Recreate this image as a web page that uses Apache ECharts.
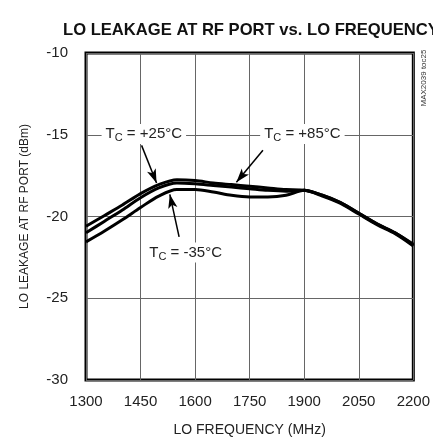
<!DOCTYPE html>
<html>
<head>
<meta charset="utf-8">
<script src="https://cdn.jsdelivr.net/npm/echarts@6/dist/echarts.min.js"></script>
<style>html,body{margin:0;padding:0;background:#fff;}#c{width:433px;height:444px;}</style>
</head>
<body>
<div id="c"></div>
<script>
const freqs = [1300,1350,1400,1450,1500,1550,1600,1650,1700,1750,1800,1850,1900,1950,2000,2050,2100,2150,2200];
const tc85 = [-20.6,-19.95,-19.3,-18.6,-18.05,-17.75,-17.8,-17.95,-18.05,-18.15,-18.25,-18.35,-18.4,-18.7,-19.15,-19.8,-20.45,-21.0,-21.75];
const tc25 = [-21.0,-20.3,-19.6,-18.85,-18.25,-17.95,-18.0,-18.1,-18.2,-18.3,-18.4,-18.45,-18.4,-18.75,-19.2,-19.85,-20.5,-21.05,-21.8];
const tcm35 = [-21.55,-20.9,-20.2,-19.45,-18.75,-18.35,-18.35,-18.5,-18.7,-18.8,-18.8,-18.7,-18.4,-18.7,-19.15,-19.8,-20.45,-21.0,-21.7];
const xTicks = [1300,1450,1600,1750,1900,2050,2200];
const yTicks = [-30,-25,-20,-15,-10];
const labelTexts = ['+25°C','+85°C','-35°C'];

const FONT = '"Liberation Sans",Arial,sans-serif';
const chart = echarts.init(document.getElementById('c'), null, {renderer:'canvas'});

function zip(xs, ys){ return xs.map((x,i)=>[x, ys[i]]); }
const rich = {
  t:{fontSize:15, fontFamily:FONT, color:'#222', lineHeight:20},
  s:{fontSize:11, fontFamily:FONT, color:'#222', padding:[8,0,0,0], lineHeight:20}
};
function tcLabel(txt){ return '{t|T}{s|C}{t| = ' + txt + '}'; }

const lineStyle = {color:'#000', width:3};
chart.setOption({
  animation:false,
  title:{text:'LO LEAKAGE AT RF PORT vs. LO FREQUENCY', left:58, top:17,
    textStyle:{fontFamily:FONT, fontWeight:'bold', fontSize:16.6, color:'#111'}},
  grid:{left:86, right:19, top:53, bottom:64, show:true, borderColor:'#000', borderWidth:3, backgroundColor:'transparent'},
  xAxis:{type:'value', min:1300, max:2200, interval:150,
    name:'LO FREQUENCY (MHz)', nameLocation:'middle', nameGap:43,
    nameTextStyle:{fontFamily:FONT, fontSize:14, color:'#222'},
    axisLine:{show:false}, axisTick:{show:false},
    axisLabel:{fontFamily:FONT, fontSize:15, color:'#222', margin:14,
      formatter: v => xTicks.indexOf(v) >= 0 ? String(v) : ''},
    splitLine:{show:true, lineStyle:{color:'#666', width:1}}},
  yAxis:{type:'value', min:-30, max:-10, interval:5,
    name:'LO LEAKAGE AT RF PORT (dBm)', nameLocation:'middle', nameRotate:90, nameGap:55,
    nameTextStyle:{fontFamily:FONT, fontSize:12, color:'#222'},
    axisLine:{show:false}, axisTick:{show:false},
    axisLabel:{fontFamily:FONT, fontSize:15, color:'#222', margin:18,
      formatter: v => yTicks.indexOf(v) >= 0 ? String(v) : ''},
    splitLine:{show:true, lineStyle:{color:'#666', width:1}}},
  graphic:[
    {type:'text', x:424, y:78, rotation:Math.PI/2,
     style:{text:'MAX2039 toc25', font:'8px '+FONT, fill:'#333',
       align:'center', verticalAlign:'middle', textAlign:'center', textVerticalAlign:'middle'}}
  ],
  series:[
    {name:'+85', type:'line', data:zip(freqs, tc85), smooth:0.3, symbol:'none', silent:true, lineStyle, z:3,
     markLine:{silent:true, symbol:['none','arrow'], symbolSize:[7,14], label:{show:false},
       lineStyle:{color:'#000', width:1.5, type:'solid'},
       data:[
         [{coord:[1452.8,-15.65]},{coord:[1494,-17.95]}],
         [{coord:[1786.5,-15.95]},{coord:[1713.5,-17.9]}],
         [{coord:[1556,-21.25]},{coord:[1530.5,-18.65]}]
       ]},
     markPoint:{silent:true, symbol:'rect', symbolSize:0,
       label:{show:true, position:'inside', backgroundColor:'#fff', padding:[0,4,0,4], rich},
       data:[
         {coord:[1459,-14.95], label:{formatter:tcLabel(labelTexts[0]), rich}},
         {coord:[1895,-14.95], label:{formatter:tcLabel(labelTexts[1]), rich}},
         {coord:[1574,-22.2], label:{formatter:tcLabel(labelTexts[2]), rich}}
       ]}},
    {name:'+25', type:'line', data:zip(freqs, tc25), smooth:0.3, symbol:'none', silent:true, lineStyle, z:3},
    {name:'-35', type:'line', data:zip(freqs, tcm35), smooth:0.3, symbol:'none', silent:true, lineStyle, z:3}
  ]
});
</script>
</body>
</html>
